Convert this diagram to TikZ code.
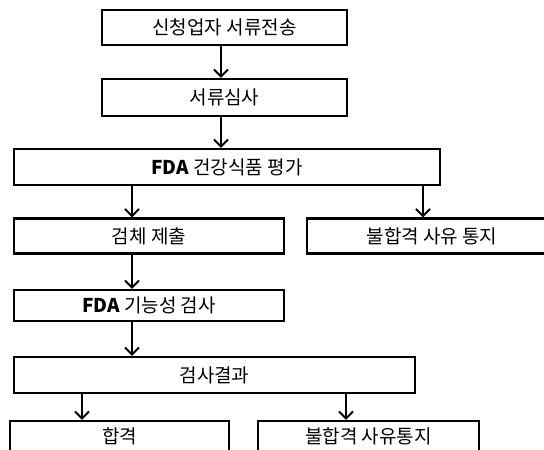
\documentclass[tikz,border=0pt]{standalone}
\usepackage{fontspec}
\setmainfont{Noto Sans CJK KR}
\usetikzlibrary{arrows.meta}
\tikzset{
  box/.style={draw=black, line width=2.2pt, rectangle, inner sep=0pt, font=\fontsize{19}{21}\selectfont, text=black},
  arr/.style={draw=black, line width=2pt, -{Straight Barb[length=7pt,width=14pt,line width=2pt]}}
}
\begin{document}
\begin{tikzpicture}[x=1pt,y=-1pt]
\useasboundingbox (0,0) rectangle (544,450);
\clip (0,0) rectangle (544,450);
\fill[white] (0,0) rectangle (544,450);
\node[box, minimum width=245pt, minimum height=35pt] (b1) at (224.5,27.5) {신청업자 서류전송};
\node[box, minimum width=245pt, minimum height=37pt] (b2) at (224.5,97.5) {서류심사};
\node[box, minimum width=426pt, minimum height=36pt] (b3) at (227,167) {{\bfseries FDA} 건강식품 평가};
\node[box, minimum width=270pt, minimum height=35pt] (b4) at (149,236) {검체 제출};
\node[box, minimum width=250pt, minimum height=35pt] (b5) at (432,236) {불합격 사유 통지};
\node[box, minimum width=270pt, minimum height=31pt] (b6) at (149,305.5) {{\bfseries FDA} 기능성 검사};
\node[box, minimum width=401pt, minimum height=36pt] (b7) at (214.5,375) {검사결과};
\node[box, minimum width=219pt, minimum height=60pt, text depth=30pt] (b8) at (119.5,451) {합격};
\node[box, minimum width=221pt, minimum height=60pt, text depth=30pt] (b9) at (368.5,451) {불합격 사유통지};
\coordinate (xa) at (221,0);
\coordinate (xb) at (132,0);
\coordinate (xc) at (423,0);
\coordinate (xd) at (82,0);
\coordinate (xe) at (346,0);
\draw[arr] (b1.south -| xa) -- (b2.north -| xa);
\draw[arr] (b2.south -| xa) -- (b3.north -| xa);
\draw[arr] (b3.south -| xb) -- (b4.north -| xb);
\draw[arr] (b3.south -| xc) -- (b5.north -| xc);
\draw[arr] (b4.south -| xb) -- (b6.north -| xb);
\draw[arr] (b6.south -| xb) -- (b7.north -| xb);
\draw[arr] (b7.south -| xd) -- (b8.north -| xd);
\draw[arr] (b7.south -| xe) -- (b9.north -| xe);
\end{tikzpicture}
\end{document}
